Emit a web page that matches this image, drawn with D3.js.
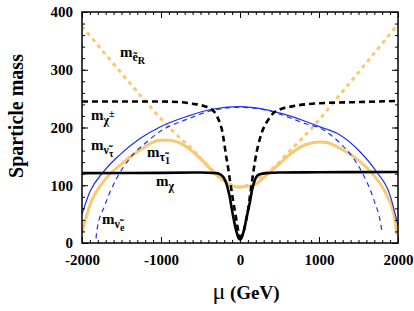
<!DOCTYPE html>
<html>
  <head>
    <meta charset="utf-8">
    <style type="text/css">
    body { margin: 0; background: #fff; }
    text { font-family: "Liberation Serif", "Times New Roman", serif; }
    </style>
    <script src="https://d3js.org/d3.v7.min.js"></script>
  </head>
  <body>
    <div id="chart"></div>
    <script>
      // values: [mu (GeV), mass (GeV)]
      var neutralino = [[-2000,121],[-1000,121.5],[-500,122],[-300,121],[-250,119],[-210,114],[-180,106],
        [-150,92],[-127,78],[-105,60],[-85,45],[-63,30],[-40,17],[-20,9],[0,6],[20,9],[40,17],[63,30],
        [85,45],[105,58],[127,72],[150,90],[180,106],[210,115],[250,119],[338,121],[500,122],[1000,122.5],[2000,123]];

      var chargino = [[-2000,245],[-1500,245],[-1013,245],[-759,244],[-600,241],[-506,239],[-430,236],
        [-380,233],[-338,229],[-300,222],[-276,215],[-250,206],[-232,198],[-210,182],[-190,164],[-170,146],
        [-148,128],[-127,108],[-105,89],[-85,71],[-63,54],[-42,37],[-21,20],[0,11],[21,12],[42,18],[63,30],
        [85,45],[105,60],[127,82],[148,103],[169,123],[190,142],[210,157],[232,170],[270,189],[316,204],
        [370,216],[422,225],[500,231],[675,237],[1013,242],[1500,244],[2000,246]];

      var snuTau = [[-2000,50],[-1899,89],[-1730,123],[-1519,153],[-1266,181],[-1013,201],[-675,219],
        [-338,232],[0,236],[506,225],[844,210],[1013,201],[1266,187],[1519,158],[1730,123],[1899,83],[2000,30]];

      var snuE = [[-1822,8],[-1814,20],[-1709,66],[-1561,112],[-1392,147],[-1181,175],[-1013,193],
        [-675,214],[-338,230],[0,235],[338,230],[506,223],[844,206],[1013,199],[1266,173],[1435,147],
        [1561,118],[1688,77],[1794,22],[1800,16]];

      var stau1 = [[-2000,18],[-1899,66],[-1730,106],[-1519,135],[-1266,161],[-1013,178],[-900,178],
        [-759,173],[-506,147],[-338,123],[-169,104],[0,97],[169,100],[338,118],[506,138],[675,158],
        [844,171],[1013,175],[1100,174],[1266,164],[1519,141],[1688,118],[1857,83],[1941,54],[1990,14]];

      var selR = [[-2000,375],[-1600,310],[-1200,246],[-1000,215],[-800,187],[-600,162],[-468,142],
        [-400,133],[-300,119],[-200,108],[-100,100],[0,97],[100,100],[200,108],[300,119],[400,128],
        [464,135],[600,155],[800,183],[1000,213],[1200,246],[1600,312],[2000,379]];

      var xTicks = [-2000, -1000, 0, 1000, 2000];
      var yTicks = [0, 100, 200, 300, 400];

      var width = 414, height = 311;
      var pLeft = 82, pRight = 398, pTop = 12, pBottom = 243;

      var svg = d3.select('#chart').append('svg')
          .attr('width', width)
          .attr('height', height);

      var x = d3.scaleLinear().domain([-2000, 2000]).range([pLeft, pRight]);
      var y = d3.scaleLinear().domain([0, 400]).range([pBottom, pTop]);

      svg.append('clipPath').attr('id', 'clip')
        .append('rect').attr('x', pLeft).attr('y', pTop)
        .attr('width', pRight - pLeft).attr('height', pBottom - pTop);

      var line = d3.line()
          .x(function(d){ return x(d[0]); })
          .y(function(d){ return y(d[1]); })
          .curve(d3.curveMonotoneX);

      var orange = '#fbc872', blue = '#1f2fee';
      var series = [
        {data: selR, color: orange, w: 3, dash: '4,4'},
        {data: stau1, color: orange, w: 3, dash: null},
        {data: snuE, color: blue, w: 1.2, dash: '5,4'},
        {data: snuTau, color: blue, w: 1.2, dash: null},
        {data: chargino, color: '#000', w: 2.6, dash: '6,4'},
        {data: neutralino, color: '#000', w: 2.6, dash: null}
      ];

      var g = svg.append('g').attr('clip-path', 'url(#clip)');
      series.forEach(function(s){
        g.append('path')
          .attr('d', line(s.data))
          .attr('fill', 'none')
          .attr('stroke', s.color)
          .attr('stroke-width', s.w)
          .attr('stroke-dasharray', s.dash);
      });

      // axes, ticks inward on all sides
      var minorX = d3.range(-2000, 2001, 100), minorY = d3.range(0, 401, 20);
      function style(sel){
        sel.select('.domain').remove();
        sel.selectAll('line').attr('stroke', '#000').attr('stroke-width', 1);
        sel.selectAll('text').attr('font-size', 15).attr('font-weight', 'bold')
          .attr('font-family', '"Liberation Serif", serif').attr('fill', '#000');
      }
      var fmt = function(d){ return String(d); };

      svg.append('g').attr('transform', 'translate(0,' + pBottom + ')')
        .call(d3.axisBottom(x).tickValues(minorX).tickSize(-3).tickFormat('')).call(style);
      svg.append('g').attr('transform', 'translate(0,' + pBottom + ')')
        .call(d3.axisBottom(x).tickValues(xTicks).tickSize(-6).tickPadding(11).tickFormat(fmt)).call(style);
      svg.append('g').attr('transform', 'translate(0,' + pTop + ')')
        .call(d3.axisTop(x).tickValues(minorX).tickSize(-3).tickFormat('')).call(style);
      svg.append('g').attr('transform', 'translate(0,' + pTop + ')')
        .call(d3.axisTop(x).tickValues(xTicks).tickSize(-6).tickFormat('')).call(style);

      svg.append('g').attr('transform', 'translate(' + pLeft + ',0)')
        .call(d3.axisLeft(y).tickValues(minorY).tickSize(-3).tickFormat('')).call(style);
      svg.append('g').attr('transform', 'translate(' + pLeft + ',0)')
        .call(d3.axisLeft(y).tickValues(yTicks).tickSize(-6).tickPadding(9).tickFormat(fmt)).call(style);
      svg.append('g').attr('transform', 'translate(' + pRight + ',0)')
        .call(d3.axisRight(y).tickValues(minorY).tickSize(-3).tickFormat('')).call(style);
      svg.append('g').attr('transform', 'translate(' + pRight + ',0)')
        .call(d3.axisRight(y).tickValues(yTicks).tickSize(-6).tickFormat('')).call(style);

      svg.append('rect')
        .attr('x', pLeft).attr('y', pTop)
        .attr('width', pRight - pLeft).attr('height', pBottom - pTop)
        .attr('fill', 'none').attr('stroke', '#000').attr('stroke-width', 1.5);

      // axis titles
      svg.append('text')
        .attr('transform', 'translate(23,116) rotate(-90)')
        .attr('text-anchor', 'middle')
        .attr('font-size', 20).attr('font-weight', 'bold')
        .text('Sparticle mass');
      var xt = svg.append('text')
        .attr('x', (pLeft + pRight) / 2 + 6).attr('y', 299)
        .attr('text-anchor', 'middle')
        .attr('font-size', 19).attr('font-weight', 'bold');
      xt.append('tspan').attr('font-size', 24).attr('font-weight', 'normal').text('\u03bc');
      xt.append('tspan').text(' (GeV)');

      // curve labels
      function label(px, py, sub, subsub, up){
        var t = svg.append('text').attr('x', px).attr('y', py)
          .attr('font-size', 15).attr('font-weight', 'bold');
        t.append('tspan').text('m');
        t.append('tspan').attr('font-size', 12).attr('dy', 4).text(sub);
        if (subsub) t.append('tspan').attr('font-size', 10).attr('dy', up ? -7 : 3).text(subsub);
      }
      label(120, 57, 'e\u0303', 'R');
      label(91, 120, '\u03c7', '\u00b1', true);
      label(91, 150, '\u03bd\u0303', '\u03c4');
      label(147, 157, '\u03c4\u0303', '1');
      label(156, 186, '\u03c7');
      label(102, 224, '\u03bd\u0303', 'e');
    </script>
  </body>
</html>
